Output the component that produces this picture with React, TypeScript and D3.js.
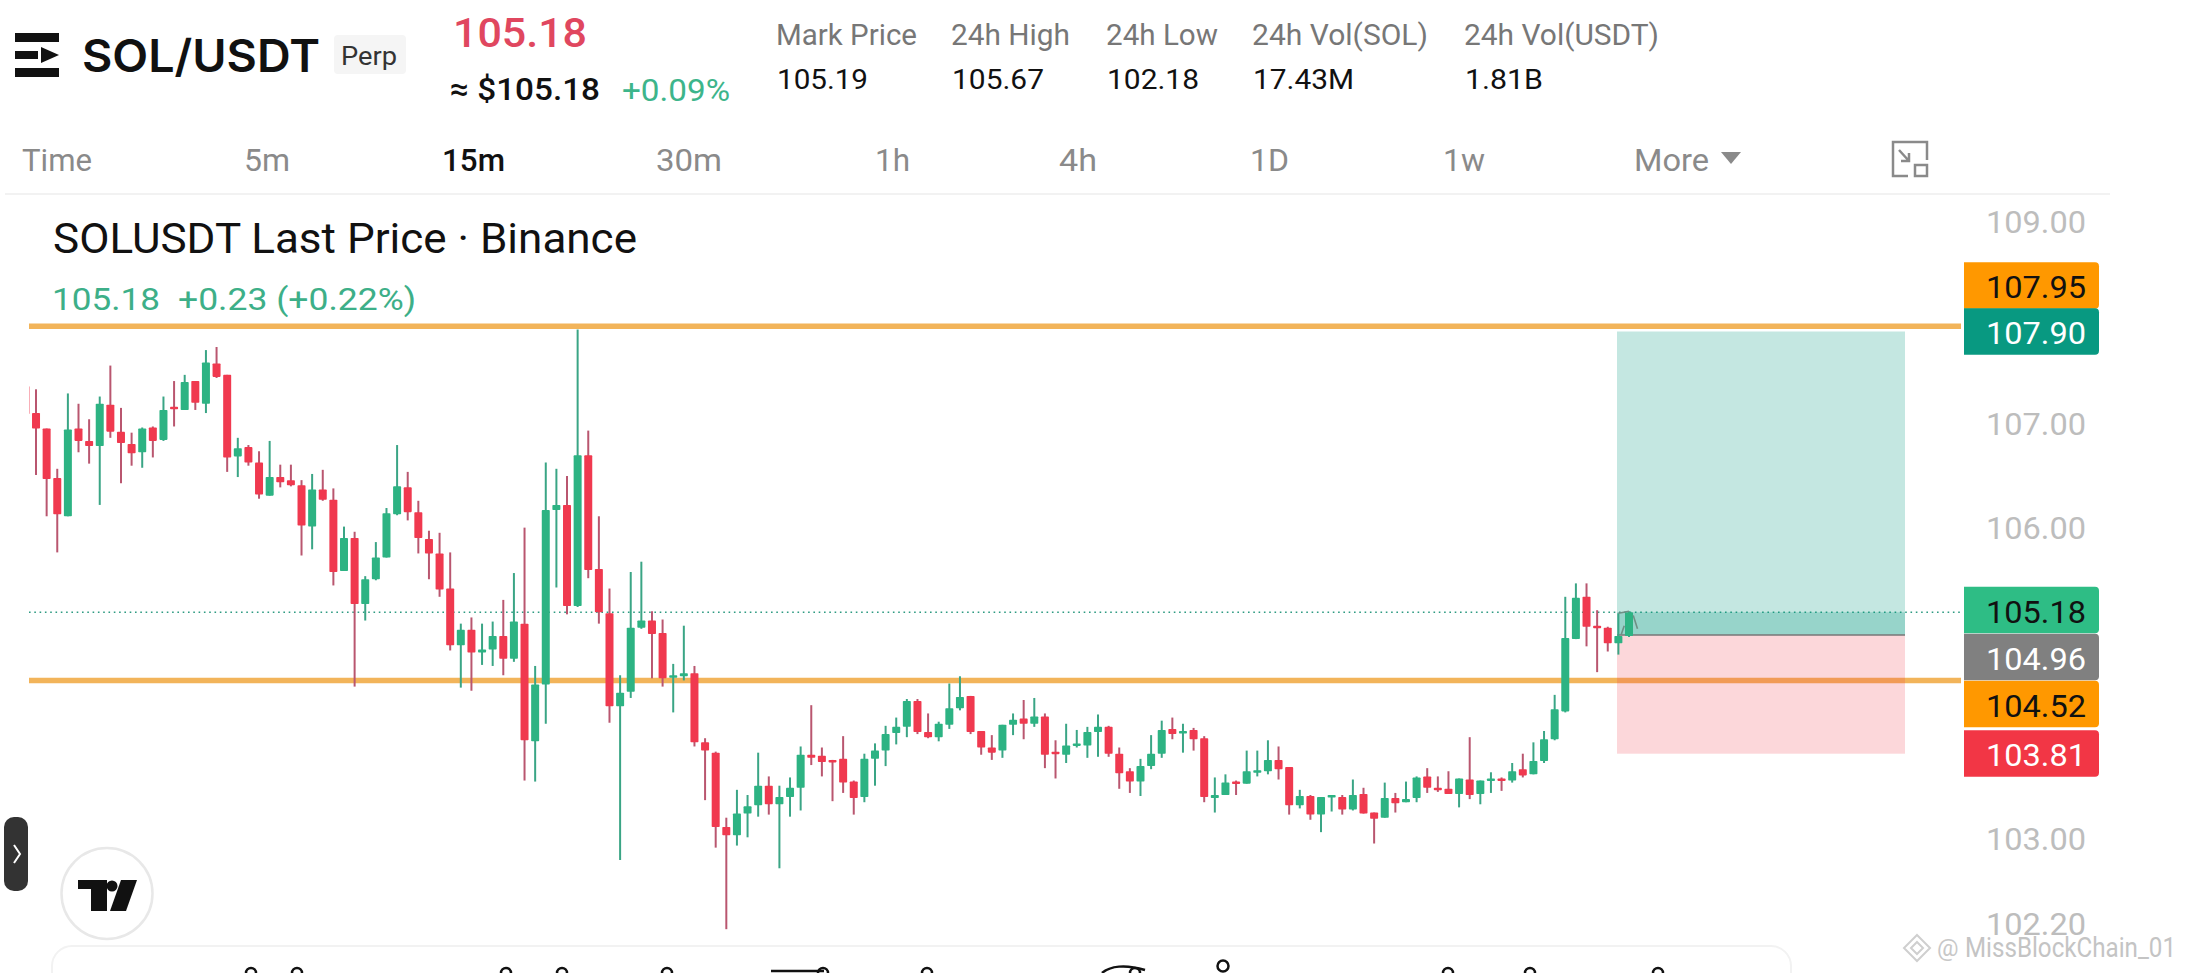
import { useEffect, useRef } from 'react';
import * as d3 from 'd3';

const opens = [
  107.37, 107.11, 106.96, 106.48, 106.11, 106.96, 106.84, 106.79, 107.19, 106.93,
  106.81, 106.73, 106.97, 106.85, 107.17, 107.14, 107.42, 107.20, 107.59, 107.48,
  106.69, 106.78, 106.63, 106.31, 106.49, 106.46, 106.41, 106.01, 106.37, 106.27,
  105.58, 105.90, 105.26, 105.50, 105.71, 106.13, 106.39, 106.15,
  105.89, 105.75, 105.41, 104.86, 105.01, 104.79, 104.82, 104.95, 104.73, 105.07,
  103.93, 104.48, 106.17, 106.22, 105.24, 106.70, 105.60, 105.17, 104.27, 104.41,
  105.03, 105.10, 104.98, 104.55, 104.56, 104.59, 103.92, 103.82, 103.10, 103.02,
  103.23, 103.31, 103.50, 103.32, 103.39, 103.48, 103.80, 103.79, 103.75, 103.76,
  103.54, 103.39, 103.76, 103.84, 104.01, 104.07, 104.32, 104.02, 103.97, 104.09,
  104.25, 104.37, 104.03, 103.87, 103.84, 104.09, 104.15, 104.10, 104.17, 103.83,
  103.80, 103.89, 103.89, 104.02, 104.07, 103.81, 103.64, 103.54, 103.69, 103.81,
  104.05, 104.02, 104.04, 103.96, 103.38, 103.41, 103.54, 103.52, 103.63, 103.64,
  103.75, 103.68, 103.31, 103.40, 103.22, 103.39, 103.39, 103.27, 103.42, 103.24,
  103.19, 103.38, 103.34, 103.38, 103.59, 103.48, 103.47, 103.42, 103.56, 103.42,
  103.55, 103.57, 103.55, 103.66, 103.61, 103.74, 103.95, 104.22, 104.92, 105.33,
  105.05, 105.03, 104.88, 104.95,
];

const highs = [
  107.37, 107.34, 106.96, 106.57, 107.30, 107.20, 107.05, 107.27, 107.57, 107.16,
  106.92, 106.97, 106.98, 107.27, 107.42, 107.48, 107.42, 107.72, 107.75, 107.48,
  106.87, 106.80, 106.74, 106.84, 106.61, 106.61, 106.46, 106.52, 106.56, 106.38,
  106.01, 105.96, 105.53, 105.86, 106.19, 106.80, 106.54, 106.26,
  105.97, 105.95, 105.76, 105.07, 105.13, 105.07, 105.09, 105.30, 105.56, 106.00,
  104.66, 106.63, 106.57, 106.50, 107.92, 106.94, 106.11, 105.41, 104.57, 105.57,
  105.67, 105.19, 105.11, 104.68, 105.05, 104.66, 103.96, 103.83, 103.19, 103.46,
  103.41, 103.82, 103.59, 103.50, 103.58, 103.88, 104.28, 103.87, 103.75, 103.98,
  103.55, 103.81, 103.91, 104.08, 104.16, 104.34, 104.34, 104.20, 104.12, 104.49,
  104.56, 104.37, 104.03, 103.99, 104.09, 104.20, 104.33, 104.35, 104.20, 103.94,
  104.10, 104.04, 104.07, 104.19, 104.08, 103.87, 103.67, 103.76, 103.99, 104.13,
  104.16, 104.10, 104.06, 103.98, 103.58, 103.61, 103.55, 103.84, 103.84, 103.94,
  103.88, 103.68, 103.46, 103.41, 103.39, 103.41, 103.41, 103.56, 103.48, 103.24,
  103.53, 103.43, 103.54, 103.59, 103.67, 103.59, 103.64, 103.57, 103.97, 103.55,
  103.63, 103.58, 103.72, 103.81, 103.92, 104.03, 104.38, 105.33, 105.46, 105.46,
  105.20, 105.04, 105.17, 105.19,
];

const lows = [
  107.10, 106.51, 106.11, 105.76, 106.11, 106.73, 106.62, 106.22, 106.87, 106.43,
  106.60, 106.58, 106.68, 106.84, 106.98, 107.14, 107.14, 107.11, 107.45, 106.54,
  106.49, 106.60, 106.28, 106.31, 106.39, 106.40, 105.73, 105.79, 106.26, 105.44,
  105.58, 104.46, 105.10, 105.49, 105.71, 106.12, 106.07, 105.75,
  105.50, 105.33, 104.81, 104.45, 104.42, 104.67, 104.66, 104.57, 104.70, 103.55,
  103.54, 104.10, 105.42, 105.16, 105.23, 105.51, 105.07, 104.11, 102.78, 104.35,
  105.02, 104.54, 104.46, 104.21, 104.52, 103.88, 103.36, 102.90, 102.11, 102.92,
  103.00, 103.20, 103.22, 102.70, 103.20, 103.26, 103.70, 103.59, 103.35, 103.43,
  103.22, 103.34, 103.50, 103.69, 103.90, 103.97, 104.00, 103.96, 103.93, 104.05,
  104.23, 104.00, 103.80, 103.75, 103.77, 103.99, 103.95, 104.07, 103.67, 103.57,
  103.72, 103.87, 103.77, 103.78, 103.78, 103.47, 103.43, 103.40, 103.66, 103.77,
  103.95, 103.82, 103.84, 103.34, 103.24, 103.41, 103.41, 103.52, 103.59, 103.61,
  103.56, 103.22, 103.28, 103.17, 103.05, 103.25, 103.22, 103.26, 103.23, 102.94,
  103.19, 103.24, 103.34, 103.34, 103.43, 103.44, 103.42, 103.29, 103.37, 103.32,
  103.43, 103.45, 103.53, 103.58, 103.61, 103.72, 103.94, 104.21, 104.92, 104.85,
  104.60, 104.80, 104.77, 104.94,
];

const closes = [
  107.10, 106.96, 106.47, 106.13, 106.95, 106.84, 106.79, 107.20, 106.93, 106.82,
  106.72, 106.96, 106.84, 107.14, 107.16, 107.41, 107.21, 107.60, 107.46, 106.68,
  106.77, 106.63, 106.32, 106.49, 106.44, 106.41, 106.02, 106.37, 106.27, 105.57,
  105.90, 105.26, 105.50, 105.71, 106.14, 106.40, 106.15, 105.90,
  105.75, 105.40, 104.86, 105.01, 104.79, 104.82, 104.95, 104.73, 105.09, 103.94,
  104.48, 106.17, 106.22, 105.24, 106.70, 105.59, 105.18, 104.27, 104.40, 105.03,
  105.10, 104.97, 104.54, 104.57, 104.59, 103.92, 103.84, 103.10, 103.02, 103.23,
  103.30, 103.50, 103.32, 103.39, 103.48, 103.80, 103.77, 103.73, 103.73, 103.53,
  103.38, 103.76, 103.84, 104.00, 104.07, 104.32, 104.02, 103.97, 104.10, 104.25,
  104.36, 104.02, 103.87, 103.82, 104.09, 104.14, 104.10, 104.17, 103.80, 103.81,
  103.89, 103.91, 104.02, 104.07, 103.81, 103.62, 103.54, 103.69, 103.81, 104.04,
  104.00, 104.03, 103.95, 103.39, 103.41, 103.53, 103.52, 103.64, 103.65, 103.75,
  103.66, 103.31, 103.40, 103.22, 103.39, 103.41, 103.27, 103.41, 103.23, 103.18,
  103.38, 103.33, 103.37, 103.58, 103.48, 103.46, 103.42, 103.57, 103.41, 103.55,
  103.57, 103.56, 103.64, 103.60, 103.74, 103.95, 104.24, 104.93, 105.32, 105.04,
  105.03, 104.88, 104.95, 105.18,
];

const priceTicks = ['109.00', '107.00', '106.00', '103.00', '102.20'];
const resistance = 107.95;
const support = 104.52;
const lastPrice = 105.18;
const target = 107.90;
const entry = 104.96;
const stop = 103.81;

const tagPrices = ['107.95', '107.90', '105.18', '104.96', '104.52', '103.81'];
const tagColors = ['#FF9800', '#089981', '#2EBD85', '#808080', '#FF9800', '#F23645'];
const tagText = ['#111', '#fff', '#111', '#fff', '#111', '#fff'];
// tags are pushed apart so they don't overlap, as on the real price axis
const tagCenters = [285.5, 331.5, 610, 657, 704, 753.5];

const intervals = ['Time', '5m', '15m', '30m', '1h', '4h', '1D', '1w', 'More'];
const intervalX = [22, 244, 442, 656, 875, 1059, 1250, 1443, 1634];
const intervalWidth = [70, 46, 63, 66, 35, 38, 39, 42, 75];

const stats = [
  ['Mark Price', '105.19'],
  ['24h High', '105.67'],
  ['24h Low', '102.18'],
  ['24h Vol(SOL)', '17.43M'],
  ['24h Vol(USDT)', '1.81B'],
];
const statX = [776, 951, 1106, 1252, 1464];
const statWidth = [141, 119, 112, 176, 195];
const statValueWidth = [91, 92, 92, 101, 78];

const HEAD_FONT = 'Inter, Roboto, sans-serif';
const CHART_FONT = 'Roboto, sans-serif';

const App = () => {
  const ref = useRef<SVGSVGElement>(null);

  useEffect(() => {
    if (!ref.current) return;
    const svg = d3.select(ref.current);
    svg.selectAll('*').remove();

    const y = d3.scaleLinear().domain([107.9, 103.81]).range([331.5, 753.7]);
    const x = d3.scaleLinear().domain([0, 151]).range([25.4, 1629]);

    const label = (
      text: string, px: number, py: number, size: number, fill: string,
      opts: { weight?: number; width?: number; font?: string } = {}
    ) => {
      const t = svg.append('text')
        .attr('x', px)
        .attr('y', py)
        .attr('dominant-baseline', 'central')
        .attr('font-family', opts.font ?? CHART_FONT)
        .attr('font-size', size)
        .attr('font-weight', opts.weight ?? 400)
        .attr('fill', fill)
        .text(text);
      if (opts.width) t.attr('textLength', opts.width).attr('lengthAdjust', 'spacingAndGlyphs');
      return t;
    };

    // Header
    const logo = svg.append('g').attr('fill', '#111');
    logo.append('rect').attr('x', 15).attr('y', 33).attr('width', 44).attr('height', 9);
    logo.append('rect').attr('x', 15).attr('y', 68).attr('width', 44).attr('height', 9);
    logo.append('rect').attr('x', 15).attr('y', 51).attr('width', 23).attr('height', 8);
    logo.append('path').attr('d', 'M41 47 L59 55 L41 63 Z');

    label('SOL/USDT', 82, 55, 45, '#111', { weight: 600, width: 238, font: HEAD_FONT });
    svg.append('rect').attr('x', 334).attr('y', 35).attr('width', 72).attr('height', 39)
      .attr('rx', 4).attr('fill', '#f5f5f5');
    label('Perp', 341, 56, 26, '#333', { width: 56 });

    label('105.18', 453, 33, 41, '#E0475F', { weight: 500, width: 134 });
    label('≈ $105.18', 450, 89, 32, '#111', { weight: 500, width: 150 });
    label('+0.09%', 622, 90, 31, '#3DB58B', { width: 108 });

    stats.forEach(([name, value], i) => {
      label(name, statX[i], 35, 29, '#777', { width: statWidth[i] });
      label(value, statX[i] + 1, 79, 28, '#111', { width: statValueWidth[i] });
    });

    intervals.forEach((name, i) => {
      const active = name === '15m';
      label(name, intervalX[i], 160, 31, active ? '#111' : '#8a8a8a', {
        weight: active ? 500 : 400,
        width: intervalWidth[i],
      });
    });
    svg.append('path').attr('d', 'M1721 152 H1741 L1731 164 Z').attr('fill', '#8a8a8a');

    const expand = svg.append('g').attr('fill', 'none').attr('stroke', '#8a8a8a').attr('stroke-width', 2.5);
    expand.append('path').attr('d', 'M1927 160 V142 H1893 V176 H1908');
    expand.append('path').attr('d', 'M1899 150 L1909 161 M1909 153 V161 H1901');
    expand.append('rect').attr('x', 1915).attr('y', 165).attr('width', 12).attr('height', 11);

    svg.append('line').attr('x1', 5).attr('x2', 2110).attr('y1', 194).attr('y2', 194)
      .attr('stroke', '#f2f2f2').attr('stroke-width', 2);

    // Legend
    label('SOLUSDT Last Price · Binance', 53, 238, 42, '#111', { width: 584 });
    label('105.18', 52, 299, 32, '#3DAF88', { width: 108 });
    label('+0.23 (+0.22%)', 178, 299, 32, '#3DAF88', { width: 238 });

    // Chart area
    svg.append('clipPath').attr('id', 'plot')
      .append('rect').attr('x', 29).attr('y', 200).attr('width', 1932).attr('height', 740);
    const plot = svg.append('g').attr('clip-path', 'url(#plot)');

    const hLine = (price: number) => plot.append('line')
      .attr('x1', 29).attr('x2', 1961)
      .attr('y1', y(price)).attr('y2', y(price));

    hLine(lastPrice).attr('stroke', '#2E9B82').attr('stroke-width', 1.6).attr('stroke-dasharray', '1.6 3.7');
    hLine(resistance).attr('stroke', '#F2B45A').attr('stroke-width', 5.5);
    hLine(support).attr('stroke', '#F2B45A').attr('stroke-width', 5.5);

    // Position box
    const boxX = 1617;
    const boxW = 288;
    const zone = (a: number, b: number, fill: string) => plot.append('rect')
      .attr('x', boxX).attr('width', boxW)
      .attr('y', y(a)).attr('height', y(b) - y(a))
      .attr('fill', fill);
    zone(target, entry, 'rgba(8,153,129,0.24)');
    zone(lastPrice, entry, 'rgba(8,153,129,0.24)');
    zone(entry, stop, 'rgba(242,54,69,0.2)');
    hLine(entry).attr('x1', boxX).attr('x2', boxX + boxW).attr('stroke', '#777').attr('stroke-width', 1.6);

    // Candles
    const candles = d3.range(opens.length);
    const up = (i: number) => closes[i] >= opens[i];

    plot.selectAll('line.wick')
      .data(candles)
      .join('line')
      .attr('class', 'wick')
      .attr('x1', i => x(i)).attr('x2', i => x(i))
      .attr('y1', i => y(highs[i])).attr('y2', i => y(lows[i]))
      .attr('stroke', i => (up(i) ? '#3AA585' : '#B9566F'))
      .attr('stroke-width', 2);

    plot.selectAll('rect.body')
      .data(candles)
      .join('rect')
      .attr('class', 'body')
      .attr('x', i => x(i) - 4)
      .attr('width', 8)
      .attr('y', i => y(Math.max(opens[i], closes[i])))
      .attr('height', i => Math.max(Math.abs(y(opens[i]) - y(closes[i])), 2.5))
      .attr('rx', 0.8)
      .attr('fill', i => (up(i) ? '#2DB383' : '#F0394F'));

    // little marker drawn over the last two candles
    const markerLine = d3.line<[number, number]>().x(d => x(d[0])).y(d => y(d[1]));
    const markers: [number, number][][] = [
      [[150, 105.17], [151, 105.19]],
      [[151.4, 105.15], [151.8, 105.02]],
      [[150.25, 104.96], [150.55, 105.05]],
    ];
    plot.selectAll('path.marker')
      .data(markers)
      .join('path')
      .attr('class', 'marker')
      .attr('d', d => markerLine(d))
      .attr('fill', 'none')
      .attr('stroke', '#6F8F85')
      .attr('stroke-width', 1.6);

    // Price axis
    priceTicks.forEach(t => {
      const v = +t;
      // the two edge labels sit a little inside the pane
      const nudge = t === '109.00' || t === '102.20' ? 4 : t === '103.00' ? 2 : 0;
      label(t, 1986, y(v) + nudge, 32, '#BDBDBD', { width: 100 });
    });

    tagPrices.forEach((t, i) => {
      const c = tagCenters[i];
      const h = 46.5;
      const top = c - h / 2;
      svg.append('path')
        .attr('d', `M1964 ${top} H2095 Q2099 ${top} 2099 ${top + 4} V${top + h - 4} Q2099 ${top + h} 2095 ${top + h} H1964 Z`)
        .attr('fill', tagColors[i]);
      label(t, 1986, c + 1.5, 32, tagText[i], { width: 100 });
    });

    // Bottom left controls
    svg.append('rect').attr('x', 4).attr('y', 817).attr('width', 24).attr('height', 74)
      .attr('rx', 10).attr('fill', '#333');
    svg.append('path').attr('d', 'M14 845 L20 854 L14 863').attr('fill', 'none')
      .attr('stroke', '#fff').attr('stroke-width', 2);

    svg.append('circle').attr('cx', 107).attr('cy', 893.5).attr('r', 45.5)
      .attr('fill', '#fff').attr('stroke', '#E8E8E8').attr('stroke-width', 2.5);
    const tv = svg.append('g').attr('fill', '#111');
    tv.append('path').attr('d', 'M78 880 H107 V911 H91 V889 H78 Z');
    tv.append('circle').attr('cx', 112).attr('cy', 886).attr('r', 5.5);
    tv.append('path').attr('d', 'M121 880 H137 L126 911 H110 Z');

    // Card cut off at the bottom of the screenshot
    svg.append('rect').attr('x', 52).attr('y', 946).attr('width', 1739).attr('height', 60)
      .attr('rx', 20).attr('fill', '#fff').attr('stroke', '#F2F2F2').attr('stroke-width', 2);
    const glyphTops = svg.append('g').attr('fill', 'none').attr('stroke', '#111').attr('stroke-width', 2.5);
    [251, 297, 506, 562, 667, 823, 927, 1135, 1448, 1530, 1658].forEach(cx => {
      glyphTops.append('circle').attr('cx', cx).attr('cy', 973).attr('r', 5);
    });
    glyphTops.append('circle').attr('cx', 1223).attr('cy', 966).attr('r', 5.5);
    glyphTops.append('path').attr('d', 'M771 971 H824 M1102 973 C1110 966 1125 964 1145 970');

    // Watermark
    const mark = svg.append('g').attr('fill', 'none').attr('stroke', '#CFCFCF').attr('stroke-width', 2);
    mark.append('path').attr('d', 'M1917 935 L1930 948 L1917 961 L1904 948 Z M1917 942 L1923 948 L1917 954 L1911 948 Z');
    label('@', 1937, 948, 24, '#C8C8C8');
    label('MissBlockChain_01', 1965, 948, 27, '#C4C4C4', { width: 211 });
  }, []);

  return (
    <svg
      ref={ref}
      width={2187}
      height={973}
      style={{ position: 'fixed', left: 0, top: 0, background: '#fff' }}
    />
  );
};

export default App;
